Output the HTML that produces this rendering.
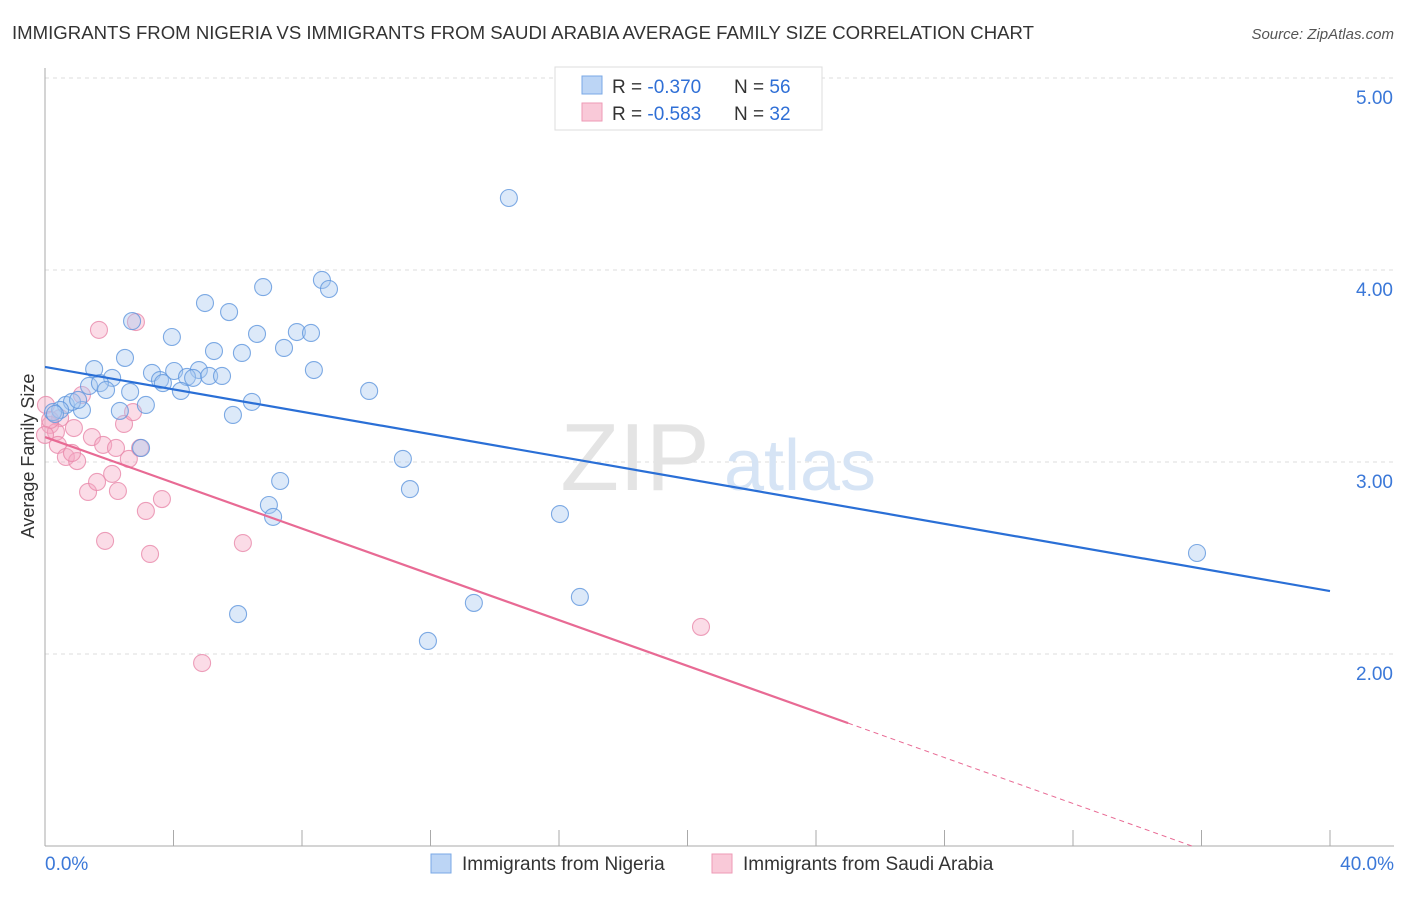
<!DOCTYPE html>
<html><head><meta charset="utf-8"><style>
body{margin:0;background:#fff;font-family:"Liberation Sans",sans-serif;}
svg text{font-family:"Liberation Sans",sans-serif;}
</style></head><body>
<svg id="chart" width="1406" height="892">
<text x="12" y="39" font-size="18" fill="#333" textLength="1022" lengthAdjust="spacingAndGlyphs">IMMIGRANTS FROM NIGERIA VS IMMIGRANTS FROM SAUDI ARABIA AVERAGE FAMILY SIZE CORRELATION CHART</text>
<text x="1394" y="39" font-size="15" fill="#555" font-style="italic" text-anchor="end">Source: ZipAtlas.com</text>
<g id="grid"></g>
<text x="635" y="490" font-size="96" fill="#e4e4e4" font-family="Liberation Serif" text-anchor="middle">ZIP</text>
<text x="800" y="490" font-size="72" fill="#d6e4f5" text-anchor="middle">atlas</text>
<text transform="translate(34,456) rotate(-90)" font-size="18" fill="#333" text-anchor="middle">Average Family Size</text>
<g id="marks"></g>
<g>
<rect x="555" y="67" width="267" height="63" fill="#fff" stroke="#ddd"/>
<rect x="582" y="76" width="20" height="18" fill="#bcd5f5" stroke="#7aa8e6"/>
<text x="612" y="93" font-size="19" fill="#333">R = <tspan fill="#2f6fd6">-0.370</tspan></text>
<text x="734" y="93" font-size="19" fill="#333">N = <tspan fill="#2f6fd6">56</tspan></text>
<rect x="582" y="103" width="20" height="18" fill="#f9c9d8" stroke="#ee9ab6"/>
<text x="612" y="120" font-size="19" fill="#333">R = <tspan fill="#2f6fd6">-0.583</tspan></text>
<text x="734" y="120" font-size="19" fill="#333">N = <tspan fill="#2f6fd6">32</tspan></text>
</g>
<g>
<rect x="431" y="854" width="20" height="19" fill="#bcd5f5" stroke="#7aa8e6"/>
<text x="462" y="870" font-size="19" fill="#333">Immigrants from Nigeria</text>
<rect x="712" y="854" width="20" height="19" fill="#f9c9d8" stroke="#ee9ab6"/>
<text x="743" y="870" font-size="19" fill="#333">Immigrants from Saudi Arabia</text>
</g>
</svg>
<script>
const yTicks=[2,3,4,5];
const yTickLabels=["2.00","3.00","4.00","5.00"];
const xTickLabels=["0.0%","40.0%"];
const nigeriaX=[14.44,8.62,8.84,6.79,4.98,5.73,2.71,3.95,6.60,7.84,8.28,5.26,6.13,7.44,2.49,1.53,3.33,4.02,4.79,8.37,3.58,3.67,4.42,4.61,5.11,5.51,2.09,1.37,1.71,1.90,4.23,2.65,10.09,6.44,3.14,2.33,1.15,0.65,0.84,1.03,0.47,0.25,5.85,2.99,11.14,7.32,11.36,6.97,7.10,16.03,35.86,13.35,16.65,6.01,11.92,0.31];
const nigeriaY=[4.375,3.948,3.901,3.911,3.828,3.781,3.734,3.651,3.667,3.677,3.672,3.578,3.568,3.594,3.542,3.484,3.464,3.474,3.479,3.479,3.427,3.411,3.443,3.438,3.448,3.448,3.438,3.396,3.411,3.375,3.370,3.365,3.370,3.313,3.297,3.266,3.271,3.297,3.313,3.323,3.271,3.260,3.245,3.073,3.016,2.901,2.859,2.776,2.714,2.729,2.526,2.266,2.297,2.208,2.068,3.25];
const saudiX=[1.68,2.83,0.03,0.47,0.16,0.34,0.90,1.15,1.46,1.81,2.21,2.46,2.74,0.40,0.65,1.00,0.84,1.34,1.62,2.09,2.27,2.61,3.14,3.64,1.87,3.27,6.16,20.42,4.89,0.16,0.0,2.96];
const saudiY=[3.688,3.729,3.297,3.229,3.193,3.156,3.177,3.349,3.130,3.089,3.073,3.198,3.260,3.089,3.026,3.005,3.047,2.844,2.896,2.938,2.849,3.016,2.745,2.807,2.589,2.521,2.578,2.141,1.953,3.219,3.141,3.073];
const nigeriaTrend=[3.495,2.328];
const saudiTrend=[3.13,1.64,25,35.7];
const X=v=>45+v*32.125, Y=v=>846-(v-1)*192;
const NS="http://www.w3.org/2000/svg";
function mk(p,tag,a){const e=document.createElementNS(NS,tag);for(const k in a)e.setAttribute(k,a[k]);p.appendChild(e);return e;}
const g=document.getElementById('grid'), m=document.getElementById('marks');
yTicks.forEach((t,i)=>{
 const l=mk(g,'line',{x1:45,x2:1394,y1:Y(t),y2:Y(t),stroke:'#ddd','stroke-dasharray':'4,4'});
 
 
 const tx=mk(g,'text',{x:1393,y:Y(t)+26,'font-size':19,fill:'#3b78d8','text-anchor':'end'});
 tx.textContent=yTickLabels[i];
 
 
});
const ax=mk(g,'line',{x1:45,x2:45,y1:68,y2:846,stroke:'#aaa'});


const bx=mk(g,'line',{x1:45,x2:1394,y1:846,y2:846,stroke:'#aaa'});


for(let i=0;i<=10;i++){const t=mk(g,'line',{x1:X(i*4),x2:X(i*4),y1:830,y2:846,stroke:'#aaa'});
 
 }
[[0,'start',45],[40,'end',1394]].forEach((d,i)=>{const t=mk(g,'text',{x:d[2],y:870,'font-size':19,fill:'#3b78d8','text-anchor':d[1]});t.textContent=xTickLabels[i];
 
 });
function dots(xs,ys,fill,stroke,name){xs.forEach((x,i)=>{const c=mk(m,'circle',{cx:X(x),cy:Y(ys[i]),r:8.5,fill:fill,'fill-opacity':0.4,stroke:stroke,'stroke-opacity':0.8,'stroke-width':1.1});
 
 });}
dots(saudiX,saudiY,'#f4a8c2','#e888aa','saudi-point');
dots(nigeriaX,nigeriaY,'#a8c8f0','#5f96dd','nigeria-point');
const bl=mk(m,'line',{x1:X(0),y1:Y(nigeriaTrend[0]),x2:X(40),y2:Y(nigeriaTrend[1]),stroke:'#2a6fd6','stroke-width':2.2});


const pl=mk(m,'line',{x1:X(0),y1:Y(saudiTrend[0]),x2:X(saudiTrend[2]),y2:Y(saudiTrend[1]),stroke:'#e86a94','stroke-width':2.2});


const pd=mk(m,'line',{x1:X(saudiTrend[2]),y1:Y(saudiTrend[1]),x2:X(saudiTrend[3]),y2:Y(1),stroke:'#e86a94','stroke-width':1,'stroke-dasharray':'5,4'});


</script>
</body></html>
